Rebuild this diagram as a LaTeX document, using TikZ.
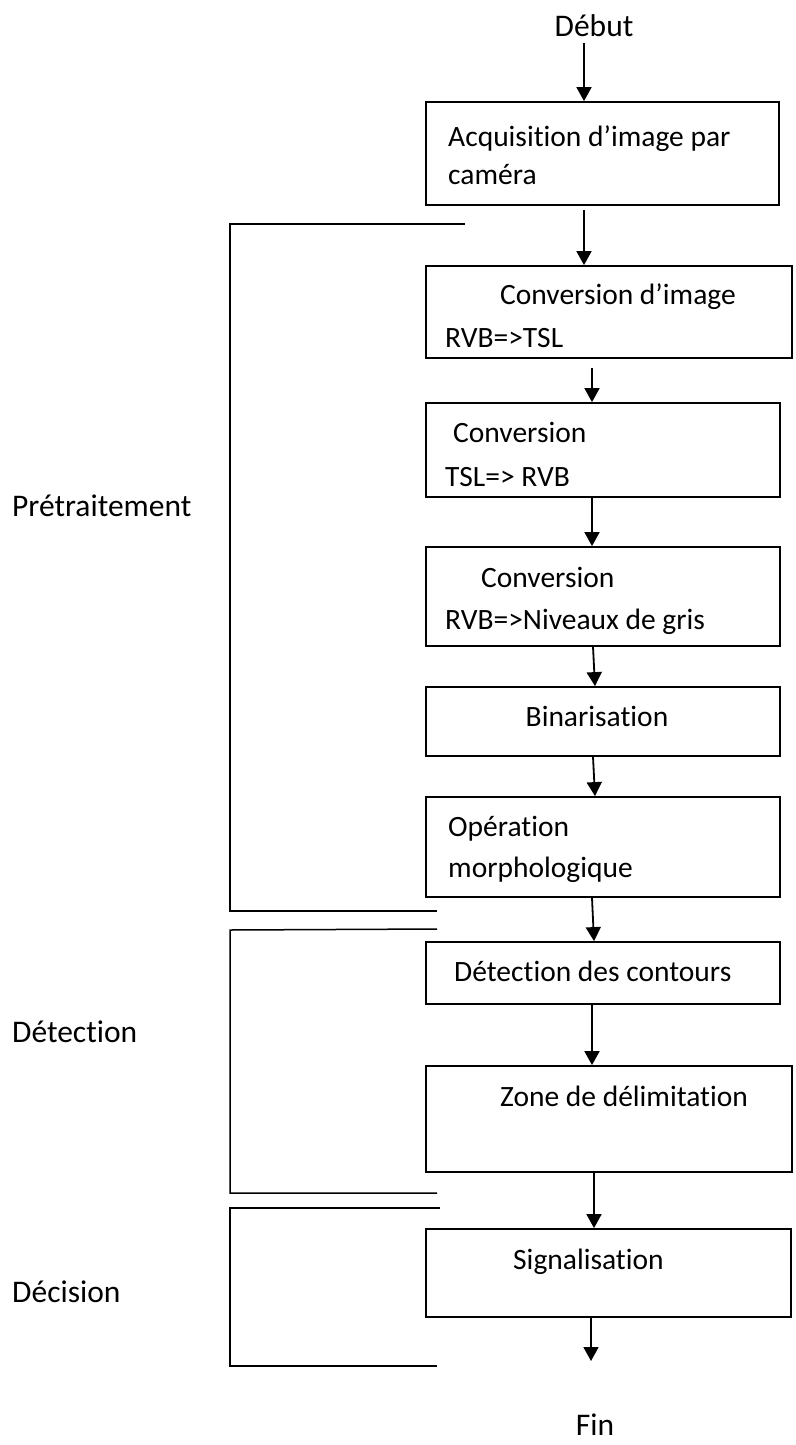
\documentclass[tikz,border=0pt]{standalone}
\usepackage{fontspec}
\setmainfont[Ligatures={NoCommon}]{Carlito}
\usetikzlibrary{arrows.meta}
\begin{document}
\begin{tikzpicture}[x=1pt,y=-1pt,
  font=\fontsize{29.5}{35}\selectfont,
  box/.style={draw, line width=1.8pt, inner sep=0pt, rectangle},
  arr/.style={line width=1.8pt, -{Triangle[length=14pt,width=15pt]}},
  brk/.style={line width=1.5pt},
  txt/.style={anchor=base west, inner sep=0pt},
  ctxt/.style={anchor=base, inner sep=0pt},
  big/.style={font=\fontsize{31.5}{37}\selectfont}]
\useasboundingbox (0,0) rectangle (795,1445);

% boxes
\node[box, minimum width=353pt, minimum height=103pt] (b1) at (602.5,153.5) {};
\node[box, minimum width=366pt, minimum height=92pt]  (b2) at (609,312) {};
\node[box, minimum width=354pt, minimum height=94pt]  (b3) at (603,450) {};
\node[box, minimum width=354pt, minimum height=99pt]  (b4) at (603,596.5) {};
\node[box, minimum width=354pt, minimum height=69pt]  (b5) at (603,721.5) {};
\node[box, minimum width=354pt, minimum height=100pt] (b6) at (603,847) {};
\node[box, minimum width=354pt, minimum height=62pt]  (b7) at (603,973) {};
\node[box, minimum width=366pt, minimum height=106pt] (b8) at (609,1119) {};
\node[box, minimum width=365pt, minimum height=88pt]  (b9) at (608.5,1273) {};

% texts in boxes
\node[txt] (t1a) at (448,146) {Acquisition d’image par};
\node[txt] (t1b) at (448,184) {caméra};
\node[txt] (t2a) at (500,304) {Conversion d’image};
\node[txt] (t2b) at (445,347) {RVB=>TSL};
\node[txt] (t3a) at (453,442) {Conversion};
\node[txt] (t3b) at (445,486) {TSL=> RVB};
\node[txt] (t4a) at (481,587) {Conversion};
\node[txt] (t4b) at (445,629) {RVB=>Niveaux de gris};
\node[ctxt] (t5) at (597,726) {Binarisation};
\node[txt] (t6a) at (448,836) {Opération};
\node[txt] (t6b) at (448,877) {morphologique};
\node[txt] (t7) at (454,981) {Détection des contours};
\node[txt] (t8) at (500,1106) {Zone de délimitation};
\node[txt] (t9) at (513,1269) {Signalisation};

% start / end
\node[ctxt, big] (debut) at (594,37) {Début};
\node[ctxt, big] (fin) at (595,1435) {Fin};
\coordinate (finarrow) at (591,1361);

% arrows
\draw[arr, shorten <=6pt] (debut.south -| 584,0) -- (b1.north -| 584,0);
\draw[arr, shorten <=4pt] (b1.south -| 584,0) -- (b2.north -| 584,0);
\draw[arr, shorten <=9pt] (b2.south -| 592,0) -- (b3.north -| 592,0);
\draw[arr] (b3.south -| 592,0) -- (b4.north -| 592,0);
\draw[arr] (b4.south -| 593,0) -- (b5.north -| 595,0);
\draw[arr] (b5.south -| 593,0) -- (b6.north -| 595,0);
\draw[arr] (b6.south -| 592,0) -- (b7.north -| 594,0);
\draw[arr] (b7.south -| 592,0) -- (b8.north -| 592,0);
\draw[arr] (b8.south -| 594,0) -- (b9.north -| 594,0);
\draw[arr] (b9.south -| 591,0) -- (finarrow);

% phase brackets
\draw[brk] (465,224) -- (230,224) -- (230,911) -- (437,911);
\draw[brk] (437,929) -- (230,930) -- (230,1193) -- (437,1193);
\draw[brk] (440,1208) -- (230,1208) -- (230,1366) -- (437,1366);

\node[txt, big] (p1) at (12,516) {Prétraitement};
\node[txt, big] (p2) at (12,1042) {Détection};
\node[txt, big] (p3) at (12,1302) {Décision};
\end{tikzpicture}
\end{document}
